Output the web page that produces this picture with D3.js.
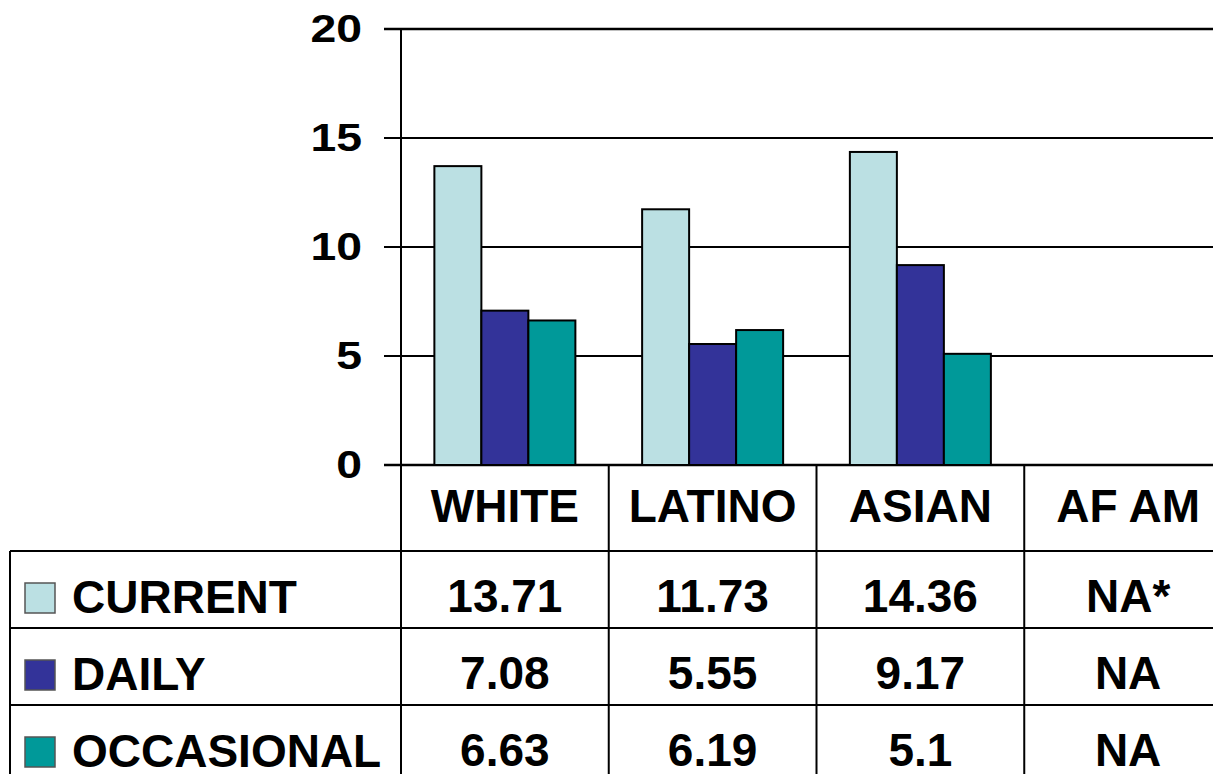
<!DOCTYPE html>
<html>
<head>
<meta charset="utf-8">
<script src="https://cdn.jsdelivr.net/npm/d3@7"></script>
<style>
  body { margin: 0; background: #fff; }
  text { font-family: "Liberation Sans", Arial, sans-serif; font-weight: bold; fill: #000; }
</style>
</head>
<body>
<script>
var width = 1213,
    height = 774;

// data
var categories = ["WHITE", "LATINO", "ASIAN", "AF AM"];
var seriesNames = ["CURRENT", "DAILY", "OCCASIONAL"];
var current = [13.71, 11.73, 14.36, null];
var daily = [7.08, 5.55, 9.17, null];
var occasional = [6.63, 6.19, 5.1, null];
var currentText = ["13.71", "11.73", "14.36", "NA*"];
var dailyText = ["7.08", "5.55", "9.17", "NA"];
var occasionalText = ["6.63", "6.19", "5.1", "NA"];
var yTicks = [0, 5, 10, 15, 20];

var colors = ["#bbe0e3", "#333399", "#009999"];
var seriesValues = [current, daily, occasional];
var seriesText = [currentText, dailyText, occasionalText];

var svg = d3.select("body").append("svg")
    .attr("width", width)
    .attr("height", height);

var plotLeft = 401, plotTop = 29, base = 465;
var rowTops = [551, 628, 705];

var x = d3.scaleBand()
    .domain(categories)
    .range([plotLeft, plotLeft + 4 * 207.75]);

var xs = d3.scaleBand()
    .domain(d3.range(3))
    .range([0, x.bandwidth()])
    .paddingOuter(0.71);

var y = d3.scaleLinear()
    .domain([0, 20])
    .range([base, plotTop]);

// gridlines + tick marks
svg.append("g").selectAll("line")
    .data(yTicks)
    .enter().append("line")
    .attr("x1", plotLeft - 17)
    .attr("x2", width)
    .attr("y1", d => y(d))
    .attr("y2", d => y(d))
    .attr("stroke", "#000")
    .attr("stroke-width", d => d == 20 || d == 0 ? 2.5 : 2);

// y labels
svg.append("g").selectAll("text")
    .data(yTicks)
    .enter().append("text")
    .attr("transform", d => "translate(362," + (y(d) - 1) + ") scale(1.22,1)")
    .attr("text-anchor", "end")
    .attr("dy", "0.36em")
    .style("font-size", "38px")
    .text(d => d);

// bars
var groups = svg.append("g").selectAll("g")
    .data(categories)
    .enter().append("g")
    .attr("transform", d => "translate(" + x(d) + ",0)");

groups.selectAll("rect")
    .data((d, i) => seriesValues.map((s, j) => ({ j: j, v: s[i] })).filter(e => e.v != null))
    .enter().append("rect")
    .attr("x", d => xs(d.j))
    .attr("width", xs.bandwidth())
    .attr("y", d => y(d.v))
    .attr("height", d => y(0) - y(d.v))
    .attr("fill", d => colors[d.j])
    .attr("stroke", "#000")
    .attr("stroke-width", 2);

// table lines
var tg = svg.append("g").attr("stroke", "#000").attr("stroke-width", 2);
tg.append("line").attr("x1", plotLeft).attr("x2", plotLeft).attr("y1", plotTop).attr("y2", height);
tg.append("line").attr("x1", 10).attr("x2", 10).attr("y1", rowTops[0]).attr("y2", height);
rowTops.forEach(function (r) {
    tg.append("line").attr("x1", 10).attr("x2", width).attr("y1", r).attr("y2", r);
});
categories.slice(1).forEach(function (c) {
    tg.append("line").attr("x1", x(c)).attr("x2", x(c)).attr("y1", base).attr("y2", height);
});

// header
svg.append("g").selectAll("text")
    .data(categories)
    .enter().append("text")
    .attr("x", d => x(d) + x.bandwidth() / 2)
    .attr("y", base + 57)
    .attr("text-anchor", "middle")
    .style("font-size", "46px")
    .text(d => d);

// rows
seriesNames.forEach(function (name, j) {
    var r = rowTops[j];
    svg.append("rect")
        .attr("x", 25).attr("y", r + 32)
        .attr("width", 30).attr("height", 30)
        .attr("fill", colors[j])
        .attr("stroke", "#555")
        .attr("stroke-width", 1.5);
    svg.append("text")
        .attr("x", 72).attr("y", r + 62)
        .style("font-size", "46px")
        .text(name);
    svg.append("g").selectAll("text")
        .data(seriesText[j])
        .enter().append("text")
        .attr("x", (d, i) => x(categories[i]) + x.bandwidth() / 2)
        .attr("y", r + 61)
        .attr("text-anchor", "middle")
        .style("font-size", "46px")
        .text(d => d);
});
</script>
</body>
</html>
